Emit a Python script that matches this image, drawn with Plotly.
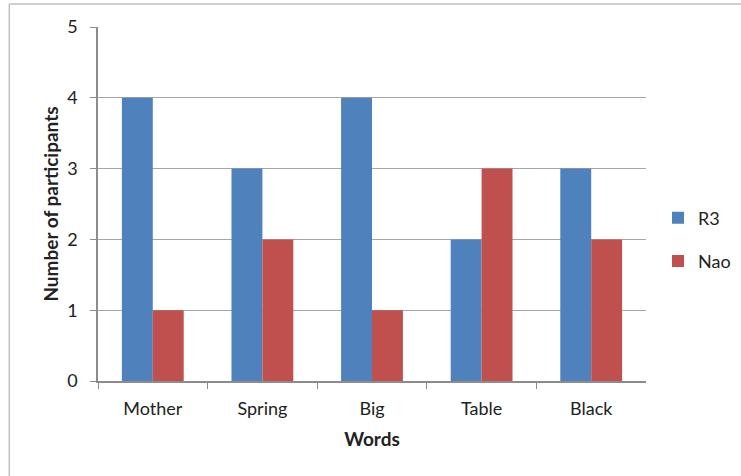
import plotly.graph_objects as go

# Words tested and participant counts per group
words = ["Mother", "Spring", "Big", "Table", "Black"]
r3_counts = [4, 3, 4, 2, 3]
nao_counts = [1, 2, 1, 3, 2]
y_ticks = [0, 1, 2, 3, 4, 5]

BLUE = "#4F81BD"
RED = "#C0504D"
GRID = "#A6A6A6"
AXIS = "#8C8C8C"
FONT = "Lato, 'Open Sans', Arial, sans-serif"

fig = go.Figure()
fig.add_trace(go.Bar(name="R3", x=words, y=r3_counts, legendgroup="r3",
                     marker=dict(color=BLUE, line=dict(width=0))))
fig.add_trace(go.Bar(name="Nao", x=words, y=nao_counts, legendgroup="nao",
                     marker=dict(color=RED, line=dict(width=0))))

fig.update_layout(
    width=741,
    height=476,
    margin=dict(l=98, r=93, t=27, b=95),
    paper_bgcolor="white",
    plot_bgcolor="white",
    barmode="group",
    bargap=0.436,
    bargroupgap=0,
    font=dict(family=FONT, size=18, color="#222222"),
    legend=dict(
        xref="container", yref="container",
        x=0.888, y=0.497, xanchor="left", yanchor="middle",
        itemwidth=30, tracegroupgap=17,
        font=dict(size=18, color="#222222"),
        bgcolor="rgba(0,0,0,0)",
    ),
    xaxis=dict(
        title=dict(text="<b>Words</b>", font=dict(size=19), standoff=14),
        type="category",
        tickson="boundaries",
        ticks="outside", ticklen=6, tickcolor=AXIS,
        ticklabelstandoff=11,
        showline=True, linecolor=AXIS, linewidth=1.5,
        showgrid=False,
    ),
    yaxis=dict(
        title=dict(text="<b>Number of participants</b>", font=dict(size=19), standoff=4),
        range=[0, 5],
        tickvals=y_ticks,
        ticks="outside", ticklen=6, tickcolor=AXIS,
        ticklabelstandoff=9,
        showline=True, linecolor=AXIS, linewidth=1.5,
        showgrid=True, gridcolor=GRID, gridwidth=1,
        zeroline=False,
    ),
    shapes=[
        # frame around the chart (left and top edges visible)
        dict(type="line", xref="paper", yref="paper",
             x0=-89 / 550, x1=-89 / 550, y0=-100 / 354, y1=1 + 23 / 354,
             line=dict(color="#BFBFBF", width=1.5), layer="below"),
        dict(type="line", xref="paper", yref="paper",
             x0=-89 / 550, x1=1 + 100 / 550, y0=1 + 23 / 354, y1=1 + 23 / 354,
             line=dict(color="#BFBFBF", width=1.5), layer="below"),
    ],
)

fig.write_html("out.html")
